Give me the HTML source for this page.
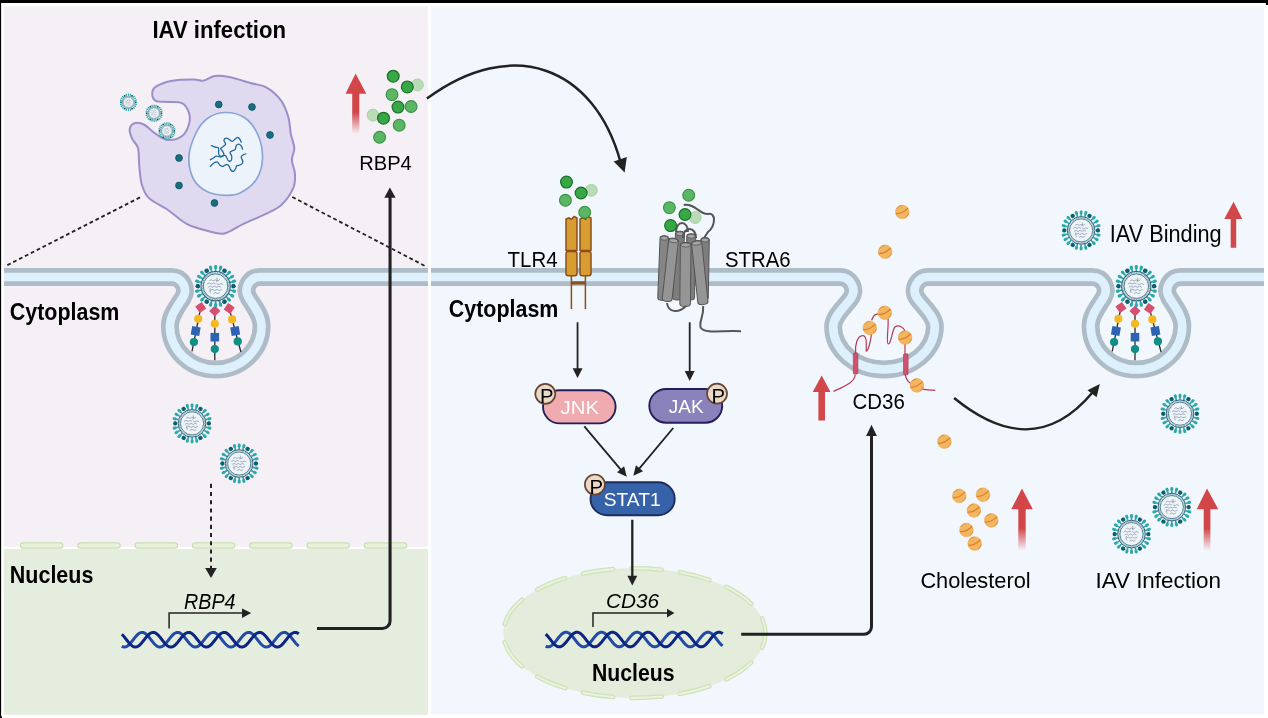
<!DOCTYPE html><html><head><meta charset="utf-8"><style>html,body{margin:0;padding:0;background:#fff;overflow:hidden}svg{display:block;will-change:transform}text{font-family:"Liberation Sans",sans-serif}</style></head><body>
<svg width="1268" height="718" viewBox="0 0 1268 718">
<defs><g id="virus"><g transform="rotate(15)"><rect x="14" y="-0.8" width="3" height="1.6" fill="#2aa5a8"/><rect x="16" y="-1.45" width="4" height="2.9" rx="1.3" fill="#2aa9aa"/></g><g transform="rotate(30)"><rect x="14" y="-0.8" width="3" height="1.6" fill="#2aa5a8"/><rect x="16" y="-1.45" width="4" height="2.9" rx="1.3" fill="#2aa9aa"/></g><g transform="rotate(45)"><rect x="14" y="-0.8" width="3" height="1.6" fill="#2aa5a8"/><rect x="16" y="-1.45" width="4" height="2.9" rx="1.3" fill="#2aa9aa"/></g><g transform="rotate(75)"><rect x="14" y="-0.8" width="3" height="1.6" fill="#2aa5a8"/><rect x="16" y="-1.45" width="4" height="2.9" rx="1.3" fill="#2aa9aa"/></g><g transform="rotate(90)"><rect x="14" y="-0.8" width="3" height="1.6" fill="#2aa5a8"/><rect x="16" y="-1.45" width="4" height="2.9" rx="1.3" fill="#2aa9aa"/></g><g transform="rotate(105)"><rect x="14" y="-0.8" width="3" height="1.6" fill="#2aa5a8"/><rect x="16" y="-1.45" width="4" height="2.9" rx="1.3" fill="#2aa9aa"/></g><g transform="rotate(135)"><rect x="14" y="-0.8" width="3" height="1.6" fill="#2aa5a8"/><rect x="16" y="-1.45" width="4" height="2.9" rx="1.3" fill="#2aa9aa"/></g><g transform="rotate(150)"><rect x="14" y="-0.8" width="3" height="1.6" fill="#2aa5a8"/><rect x="16" y="-1.45" width="4" height="2.9" rx="1.3" fill="#2aa9aa"/></g><g transform="rotate(165)"><rect x="14" y="-0.8" width="3" height="1.6" fill="#2aa5a8"/><rect x="16" y="-1.45" width="4" height="2.9" rx="1.3" fill="#2aa9aa"/></g><g transform="rotate(195)"><rect x="14" y="-0.8" width="3" height="1.6" fill="#2aa5a8"/><rect x="16" y="-1.45" width="4" height="2.9" rx="1.3" fill="#2aa9aa"/></g><g transform="rotate(210)"><rect x="14" y="-0.8" width="3" height="1.6" fill="#2aa5a8"/><rect x="16" y="-1.45" width="4" height="2.9" rx="1.3" fill="#2aa9aa"/></g><g transform="rotate(225)"><rect x="14" y="-0.8" width="3" height="1.6" fill="#2aa5a8"/><rect x="16" y="-1.45" width="4" height="2.9" rx="1.3" fill="#2aa9aa"/></g><g transform="rotate(255)"><rect x="14" y="-0.8" width="3" height="1.6" fill="#2aa5a8"/><rect x="16" y="-1.45" width="4" height="2.9" rx="1.3" fill="#2aa9aa"/></g><g transform="rotate(270)"><rect x="14" y="-0.8" width="3" height="1.6" fill="#2aa5a8"/><rect x="16" y="-1.45" width="4" height="2.9" rx="1.3" fill="#2aa9aa"/></g><g transform="rotate(285)"><rect x="14" y="-0.8" width="3" height="1.6" fill="#2aa5a8"/><rect x="16" y="-1.45" width="4" height="2.9" rx="1.3" fill="#2aa9aa"/></g><g transform="rotate(315)"><rect x="14" y="-0.8" width="3" height="1.6" fill="#2aa5a8"/><rect x="16" y="-1.45" width="4" height="2.9" rx="1.3" fill="#2aa9aa"/></g><g transform="rotate(330)"><rect x="14" y="-0.8" width="3" height="1.6" fill="#2aa5a8"/><rect x="16" y="-1.45" width="4" height="2.9" rx="1.3" fill="#2aa9aa"/></g><g transform="rotate(345)"><rect x="14" y="-0.8" width="3" height="1.6" fill="#2aa5a8"/><rect x="16" y="-1.45" width="4" height="2.9" rx="1.3" fill="#2aa9aa"/></g><g transform="rotate(0) translate(16.8 0)"><path d="M-2 -1.2 L-0.5 -2.2 L1.5 -1.8 L2.2 0 L1.5 1.8 L-0.5 2.2 L-2 1.2Z" fill="#0e5f6e"/></g><g transform="rotate(60) translate(16.8 0)"><path d="M-2 -1.2 L-0.5 -2.2 L1.5 -1.8 L2.2 0 L1.5 1.8 L-0.5 2.2 L-2 1.2Z" fill="#0e5f6e"/></g><g transform="rotate(120) translate(16.8 0)"><path d="M-2 -1.2 L-0.5 -2.2 L1.5 -1.8 L2.2 0 L1.5 1.8 L-0.5 2.2 L-2 1.2Z" fill="#0e5f6e"/></g><g transform="rotate(180) translate(16.8 0)"><path d="M-2 -1.2 L-0.5 -2.2 L1.5 -1.8 L2.2 0 L1.5 1.8 L-0.5 2.2 L-2 1.2Z" fill="#0e5f6e"/></g><g transform="rotate(240) translate(16.8 0)"><path d="M-2 -1.2 L-0.5 -2.2 L1.5 -1.8 L2.2 0 L1.5 1.8 L-0.5 2.2 L-2 1.2Z" fill="#0e5f6e"/></g><g transform="rotate(300) translate(16.8 0)"><path d="M-2 -1.2 L-0.5 -2.2 L1.5 -1.8 L2.2 0 L1.5 1.8 L-0.5 2.2 L-2 1.2Z" fill="#0e5f6e"/></g><circle r="13.8" fill="#e3eef0" stroke="#2c5f7a" stroke-width="1"/><circle r="12.7" fill="none" stroke="#6fa3b3" stroke-width="1" stroke-dasharray="0.9 0.7"/><circle r="11.6" fill="#edf4f5" stroke="#2c5f7a" stroke-width="0.8"/><path d="M-6 -5 C-5.67 -5.17 -4.67 -6 -4 -6 C-3.33 -6 -2.67 -5 -2 -5 C-1.33 -5 -0.67 -6 0 -6 C0.67 -6 1.33 -4.92 2 -5 C2.67 -5.08 3.67 -6.25 4 -6.5" fill="none" stroke="#5c6390" stroke-width="0.5"/><path d="M-8 -2 C-7.67 -2.17 -6.67 -3 -6 -3 C-5.33 -3 -4.67 -2 -4 -2 C-3.33 -2 -2.67 -3 -2 -3 C-1.33 -3 -0.33 -2.17 0 -2" fill="none" stroke="#5c6390" stroke-width="0.5"/><path d="M1 -2.5 C1.33 -2.33 2.33 -1.5 3 -1.5 C3.67 -1.5 4.33 -2.5 5 -2.5 C5.67 -2.5 6.67 -1.67 7 -1.5" fill="none" stroke="#5c6390" stroke-width="0.5"/><path d="M-7 1 C-6.67 0.83 -5.67 0 -5 0 C-4.33 0 -3.67 1 -3 1 C-2.33 1 -1.67 0 -1 0 C-0.33 0 0.33 1 1 1 C1.67 1 2.33 0 3 0 C3.67 0 4.67 0.83 5 1" fill="none" stroke="#5c6390" stroke-width="0.5"/><path d="M-5 4 C-4.67 3.83 -3.67 3 -3 3 C-2.33 3 -1.67 4 -1 4 C-0.33 4 0.33 3 1 3 C1.67 3 2.17 4 3 4 C3.83 4 5.5 3.17 6 3" fill="none" stroke="#5c6390" stroke-width="0.5"/><path d="M-2 7 C-1.67 6.83 -0.67 6 0 6 C0.67 6 1.33 7 2 7 C2.67 7 3.67 6.17 4 6" fill="none" stroke="#5c6390" stroke-width="0.5"/><path d="M-5 2 C-5.08 2.42 -5.58 3.75 -5.5 4.5 C-5.42 5.25 -4.67 6.17 -4.5 6.5" fill="none" stroke="#5c6390" stroke-width="0.5"/><path d="M1 -8 C1.08 -7.67 1.58 -6.67 1.5 -6 C1.42 -5.33 0.67 -4.33 0.5 -4" fill="none" stroke="#5c6390" stroke-width="0.5"/></g><g id="glyc"><path d="M200.75 307.5 L192 351.4 M214.8 311 L214.8 360.2 M229.2 308.5 L240.9 352" stroke="#2b2b2b" stroke-width="1.3" fill="none"/><rect x="196.79" y="303.54" width="7.92" height="7.92" fill="#d4506e" transform="rotate(55 200.75 307.5)"/><rect x="210.84" y="307.04" width="7.92" height="7.92" fill="#d4506e" transform="rotate(45 214.8 311)"/><rect x="225.24" y="304.54" width="7.92" height="7.92" fill="#d4506e" transform="rotate(35 229.2 308.5)"/><circle cx="198.2" cy="318.8" r="4.1" fill="#f5b820"/><circle cx="214.8" cy="323.8" r="4.1" fill="#f5b820"/><circle cx="232.1" cy="319.4" r="4.1" fill="#f5b820"/><rect x="191.4" y="326.8" width="8.6" height="8.6" fill="#2e63b4" transform="rotate(10 195.7 331.1)"/><rect x="210.5" y="332.9" width="8.6" height="8.6" fill="#2e63b4" transform="rotate(0 214.8 337.2)"/><rect x="230.9" y="326.8" width="8.6" height="8.6" fill="#2e63b4" transform="rotate(-10 235.2 331.1)"/><circle cx="193.9" cy="342" r="4.1" fill="#0e8f86"/><circle cx="214.8" cy="349.1" r="4.1" fill="#0e8f86"/><circle cx="237.7" cy="341.4" r="4.1" fill="#0e8f86"/></g><g id="chol"><circle r="6.8" fill="#f2b662" stroke="#eaa44e" stroke-width="0.6"/><path d="M-5.6 -3.2 A6.4 6.4 0 0 1 -0.5 -6.4" stroke="#e38f38" stroke-width="1" fill="none"/><path d="M-6.4 1.6 Q-0.5 2.4 5.6 -3.8" stroke="#dd8126" stroke-width="1.3" fill="none"/><path d="M6.3 1 A6.4 6.4 0 0 1 3.2 5.5" stroke="#e38f38" stroke-width="1" fill="none"/></g><linearGradient id="fadeR" x1="0" y1="0" x2="0" y2="1"><stop offset="0" stop-color="#d2464a"/><stop offset="0.64" stop-color="#d2464a"/><stop offset="1" stop-color="#d2464a" stop-opacity="0"/></linearGradient></defs>
<rect width="1268" height="718" fill="#fff"/>
<rect x="0" y="0" width="1268" height="3" fill="#000"/>
<rect x="0" y="0" width="1.1" height="718" fill="#000"/>
<rect x="1265.9" y="0" width="2.1" height="5" fill="#000"/>
<rect x="0" y="716.4" width="2" height="1.6" fill="#000"/>
<rect x="3.9" y="6.4" width="424.2" height="540.6" fill="#f5f0f6"/>
<rect x="3.9" y="549" width="424.2" height="165.8" fill="#e5eddf"/>
<rect x="430.9" y="6.4" width="833.3" height="707.8" fill="#f1f7fc"/>
<path d="M4 277 L171.45 277 A13.5 13.5 0 0 1 182.9 297.65 C176.54 307.83 169.9 316 169.9 326 A45.85 43.5 0 0 0 261.6 326 C261.6 316 254.96 307.83 248.6 297.65 A13.5 13.5 0 0 1 260.05 277 L428 277" fill="none" stroke="#aebcc8" stroke-width="18"/>
<path d="M4 277 L171.45 277 A13.5 13.5 0 0 1 182.9 297.65 C176.54 307.83 169.9 316 169.9 326 A45.85 43.5 0 0 0 261.6 326 C261.6 316 254.96 307.83 248.6 297.65 A13.5 13.5 0 0 1 260.05 277 L428 277" fill="none" stroke="#dff0fd" stroke-width="8.6"/>
<path d="M431 277 L839.8 277 A13.5 13.5 0 0 1 850.72 298.44 C843.67 308.14 833.15 316.6 833.15 326.6 A50.85 42.9 0 0 0 934.85 326.6 C934.85 316.6 924.33 308.14 917.28 298.44 A13.5 13.5 0 0 1 928.2 277 L1092.15 277 A13.5 13.5 0 0 1 1103.6 297.65 C1097.24 307.83 1090.6 316 1090.6 326 A45.85 43.5 0 0 0 1182.3 326 C1182.3 316 1175.66 307.83 1169.3 297.65 A13.5 13.5 0 0 1 1180.75 277 L1264 277" fill="none" stroke="#aebcc8" stroke-width="18"/>
<path d="M431 277 L839.8 277 A13.5 13.5 0 0 1 850.72 298.44 C843.67 308.14 833.15 316.6 833.15 326.6 A50.85 42.9 0 0 0 934.85 326.6 C934.85 316.6 924.33 308.14 917.28 298.44 A13.5 13.5 0 0 1 928.2 277 L1092.15 277 A13.5 13.5 0 0 1 1103.6 297.65 C1097.24 307.83 1090.6 316 1090.6 326 A45.85 43.5 0 0 0 1182.3 326 C1182.3 316 1175.66 307.83 1169.3 297.65 A13.5 13.5 0 0 1 1180.75 277 L1264 277" fill="none" stroke="#dff0fd" stroke-width="8.6"/>
<path d="M152.2 93.7 C152.2 91.33 152.43 88.77 155.8 86.6 C159.17 84.43 166.08 81.88 172.4 80.7 C178.72 79.52 188.58 79.5 193.7 79.5 C198.82 79.5 199.55 81.3 203.1 80.7 C206.65 80.1 210.65 76.5 215 75.9 C219.35 75.3 223.28 75.92 229.2 77.1 C235.12 78.28 244.18 81.22 250.5 83 C256.82 84.78 261.97 84.83 267.1 87.8 C272.23 90.77 277.75 95.87 281.3 100.8 C284.85 105.73 286.82 111.88 288.4 117.4 C289.98 122.92 289.82 128.78 290.8 133.9 C291.78 139.02 294.12 143.75 294.3 148.1 C294.48 152.45 291.78 155.65 291.9 160 C292.02 164.35 294.8 169.47 295 174.2 C295.2 178.93 295.38 183.27 293.1 188.4 C290.82 193.53 286.03 200.67 281.3 205 C276.57 209.33 271.02 211.25 264.7 214.4 C258.38 217.55 250.1 220.73 243.4 223.9 C236.7 227.07 230.42 232.22 224.5 233.4 C218.58 234.58 214.22 232.58 207.9 231 C201.58 229.42 193.32 227.45 186.6 223.9 C179.88 220.35 173.92 214.03 167.6 209.7 C161.28 205.37 153.03 202.23 148.7 197.9 C144.37 193.57 143.18 189.23 141.6 183.7 C140.02 178.17 139.8 170.63 139.2 164.7 C138.6 158.77 139.18 152.43 138 148.1 C136.82 143.77 133.48 141.85 132.1 138.7 C130.72 135.55 129.3 131.77 129.7 129.2 C130.1 126.63 132.13 124.08 134.5 123.3 C136.87 122.52 140.35 122.73 143.9 124.5 C147.45 126.27 151.85 131.33 155.8 133.9 C159.75 136.47 163.27 139.5 167.6 139.9 C171.93 140.3 178.25 138.87 181.8 136.3 C185.35 133.73 187.72 128.45 188.9 124.5 C190.08 120.55 190.08 116.15 188.9 112.6 C187.72 109.05 185.35 104.97 181.8 103.2 C178.25 101.43 171.93 102.4 167.6 102 C163.27 101.6 158.37 102.18 155.8 100.8 C153.23 99.42 152.2 96.07 152.2 93.7Z" fill="#e0daf0" stroke="#9a8fc8" stroke-width="2"/>
<path d="M225.75 112.5 C231.92 112.5 239.62 114.25 245 118 C250.38 121.75 255.08 128.17 258 135 C260.92 141.83 262.83 151.5 262.5 159 C262.17 166.5 259.75 174.33 256 180 C252.25 185.67 245.04 190.45 240 193 C234.96 195.55 231.08 195.47 225.75 195.3 C220.42 195.13 213.29 194.55 208 192 C202.71 189.45 197.18 185.83 194 180 C190.82 174.17 188.57 164.83 188.9 157 C189.23 149.17 192.82 139.5 196 133 C199.18 126.5 203.04 121.42 208 118 C212.96 114.58 219.58 112.5 225.75 112.5Z" fill="#ecf3fb" stroke="#8aa4d6" stroke-width="1.7"/>
<path d="M210.29 159.73 C210.8 159.45 212.38 158.66 213.35 158.06 C214.33 157.45 215.12 156.29 216.14 156.11 C217.16 155.92 218.46 156.9 219.48 156.94 C220.5 156.99 221.52 156.85 222.26 156.39 C223 155.92 223.93 155.09 223.93 154.16 C223.93 153.23 222.82 151.75 222.26 150.82 C221.7 149.89 220.4 149.33 220.59 148.59 C220.78 147.85 222.54 147.11 223.37 146.36 C224.21 145.62 225.51 145.16 225.6 144.14 C225.69 143.12 223.84 141.26 223.93 140.24 C224.02 139.22 225.23 138.1 226.16 138.01 C227.09 137.92 228.48 139.12 229.5 139.68 C230.52 140.24 231.35 141.44 232.28 141.35 C233.21 141.26 234.14 139.77 235.07 139.12 C235.99 138.48 237.02 137.36 237.85 137.45 C238.69 137.55 239.52 138.89 240.08 139.68 C240.63 140.47 241.01 141.77 241.19 142.19" fill="none" stroke="#1d6597" stroke-width="1.25" stroke-linecap="round"/>
<path d="M211.4 145.53 C212.01 145.81 213.86 146.83 215.02 147.2 C216.18 147.57 217.76 147.06 218.36 147.76 C218.97 148.45 218.55 150.21 218.64 151.37 C218.73 152.53 218.41 153.88 218.92 154.71 C219.43 155.55 220.68 156.29 221.7 156.39 C222.72 156.48 224.21 155.09 225.04 155.27 C225.88 155.46 226.16 156.57 226.71 157.5 C227.27 158.43 227.64 160.38 228.39 160.84 C229.13 161.3 230.61 161.03 231.17 160.28 C231.73 159.54 231.91 157.68 231.73 156.39 C231.54 155.09 229.96 153.42 230.06 152.49 C230.15 151.56 231.45 151.28 232.28 150.82 C233.12 150.35 234.42 150.54 235.07 149.7 C235.72 148.87 235.62 146.73 236.18 145.81 C236.74 144.88 237.57 144.14 238.41 144.14 C239.24 144.14 240.5 144.97 241.19 145.81 C241.89 146.64 242.35 148.59 242.58 149.15" fill="none" stroke="#1d6597" stroke-width="1.25" stroke-linecap="round"/>
<path d="M210.29 166.41 C210.89 165.85 212.75 163.81 213.91 163.07 C215.07 162.32 216.23 161.58 217.25 161.95 C218.27 162.32 219.11 164.55 220.03 165.29 C220.96 166.04 221.8 166.5 222.82 166.41 C223.84 166.31 225.14 164.83 226.16 164.74 C227.18 164.64 228.2 165.02 228.94 165.85 C229.68 166.69 229.87 168.82 230.61 169.75 C231.35 170.68 232.56 171.6 233.4 171.42 C234.23 171.23 235.07 169.56 235.62 168.63 C236.18 167.71 235.9 166.5 236.74 165.85 C237.57 165.2 239.61 165.39 240.63 164.74 C241.66 164.09 242.77 163.25 242.86 161.95 C242.95 160.65 241.1 158.15 241.19 156.94 C241.28 155.74 242.63 155.23 243.42 154.71 C244.21 154.2 245.51 154.02 245.92 153.88" fill="none" stroke="#1d6597" stroke-width="1.25" stroke-linecap="round"/>
<circle cx="218.75" cy="104.5" r="3.4" fill="#177080" stroke="#0d5260" stroke-width="0.8"/>
<circle cx="252" cy="107" r="3.4" fill="#177080" stroke="#0d5260" stroke-width="0.8"/>
<circle cx="270" cy="135" r="3.4" fill="#177080" stroke="#0d5260" stroke-width="0.8"/>
<circle cx="179" cy="158" r="3.4" fill="#177080" stroke="#0d5260" stroke-width="0.8"/>
<circle cx="179" cy="185.5" r="3.4" fill="#177080" stroke="#0d5260" stroke-width="0.8"/>
<circle cx="214.5" cy="203" r="3.4" fill="#177080" stroke="#0d5260" stroke-width="0.8"/>
<use href="#virus" transform="translate(128.4 102.3) scale(0.44)"/>
<use href="#virus" transform="translate(154.1 113.2) scale(0.44)"/>
<use href="#virus" transform="translate(166.9 130.9) scale(0.44)"/>
<path d="M140 197.4 L4.9 266.4 M292.3 197 L427 267" stroke="#222" stroke-width="1.8" stroke-dasharray="3.8 2.8" fill="none"/>
<text x="152.4" y="37.97" font-size="23" font-weight="bold" font-style="normal" fill="#000" textLength="133.6" lengthAdjust="spacingAndGlyphs">IAV infection</text>
<text x="9.8" y="319.7" font-size="23" font-weight="bold" font-style="normal" fill="#000" textLength="109.6" lengthAdjust="spacingAndGlyphs">Cytoplasm</text>
<use href="#glyc"/>
<use href="#virus" transform="translate(215.6 286.2) scale(1.06)"/>
<use href="#virus" transform="translate(192.06 423.4)"/>
<use href="#virus" transform="translate(239.2 463.5)"/>
<rect x="4" y="546.8" width="424" height="2.2" fill="#fff"/>
<rect x="20.5" y="542.8" width="42.4" height="5.4" rx="2.7" fill="#e7f1dc" stroke="#c9dfb4" stroke-width="1.2"/>
<rect x="77.8" y="542.8" width="42.4" height="5.4" rx="2.7" fill="#e7f1dc" stroke="#c9dfb4" stroke-width="1.2"/>
<rect x="135.1" y="542.8" width="42.4" height="5.4" rx="2.7" fill="#e7f1dc" stroke="#c9dfb4" stroke-width="1.2"/>
<rect x="192.4" y="542.8" width="42.4" height="5.4" rx="2.7" fill="#e7f1dc" stroke="#c9dfb4" stroke-width="1.2"/>
<rect x="249.7" y="542.8" width="42.4" height="5.4" rx="2.7" fill="#e7f1dc" stroke="#c9dfb4" stroke-width="1.2"/>
<rect x="307" y="542.8" width="42.4" height="5.4" rx="2.7" fill="#e7f1dc" stroke="#c9dfb4" stroke-width="1.2"/>
<rect x="364.3" y="542.8" width="42.4" height="5.4" rx="2.7" fill="#e7f1dc" stroke="#c9dfb4" stroke-width="1.2"/>
<path d="M211 483.8 L211 569" stroke="#222" stroke-width="2" stroke-dasharray="4.1 4.1" fill="none"/>
<path d="M205.2 567.9 L216.8 567.9 L211 578Z" fill="#222"/>
<text x="9.8" y="582.6" font-size="23.5" font-weight="bold" font-style="normal" fill="#000" textLength="83.6" lengthAdjust="spacingAndGlyphs">Nucleus</text>
<path d="M121.8 646.27 L122.3 646.52 L122.8 646.73 L123.3 646.87 L123.8 646.97 L124.3 647 L124.8 646.98 L125.3 646.9 L125.8 646.76 L126.3 646.57 L126.8 646.32 L127.3 646.03 L127.8 645.68 L128.3 645.29 L128.8 644.85 L129.3 644.37 L129.8 643.86 L130.3 643.31 L130.8 642.74 L131.3 642.14 L131.8 641.52 L132.3 640.89 L132.8 640.25 L133.3 639.6 L133.8 638.96 L134.3 638.32 L134.8 637.69 L135.3 637.08 L135.8 636.49 L136.3 635.92 L136.8 635.38 L137.3 634.88 L137.8 634.41 L138.3 633.99 L138.8 633.61 L139.3 633.28 L139.8 633 L140.3 632.77 L140.8 632.59 L141.3 632.47 L141.8 632.41 L142.3 632.4 L142.8 632.46 L143.3 632.56 L143.8 632.73 L144.3 632.95 L144.8 633.22 L145.3 633.54 L145.8 633.91 L146.3 634.33 L146.8 634.78 L147.3 635.28 L147.8 635.81 L148.3 636.37 L148.8 636.96 L149.3 637.57 L149.8 638.19 L150.3 638.83 L150.8 639.47 L151.3 640.12 L151.8 640.76 L152.3 641.4 L152.8 642.02 L153.3 642.62 L153.8 643.2 L154.3 643.75 L154.8 644.27 L155.3 644.76 L155.8 645.2 L156.3 645.61 L156.8 645.96 L157.3 646.27 L157.8 646.52 L158.3 646.73 L158.8 646.87 L159.3 646.97 L159.8 647 L160.3 646.98 L160.8 646.9 L161.3 646.76 L161.8 646.57 L162.3 646.32 L162.8 646.03 L163.3 645.68 L163.8 645.29 L164.3 644.85 L164.8 644.37 L165.3 643.86 L165.8 643.31 L166.3 642.74 L166.8 642.14 L167.3 641.52 L167.8 640.89 L168.3 640.25 L168.8 639.6 L169.3 638.96 L169.8 638.32 L170.3 637.69 L170.8 637.08 L171.3 636.49 L171.8 635.92 L172.3 635.38 L172.8 634.88 L173.3 634.41 L173.8 633.99 L174.3 633.61 L174.8 633.28 L175.3 633 L175.8 632.77 L176.3 632.59 L176.8 632.47 L177.3 632.41 L177.8 632.4 L178.3 632.46 L178.8 632.56 L179.3 632.73 L179.8 632.95 L180.3 633.22 L180.8 633.54 L181.3 633.91 L181.8 634.33 L182.3 634.78 L182.8 635.28 L183.3 635.81 L183.8 636.37 L184.3 636.96 L184.8 637.57 L185.3 638.19 L185.8 638.83 L186.3 639.47 L186.8 640.12 L187.3 640.76 L187.8 641.4 L188.3 642.02 L188.8 642.62 L189.3 643.2 L189.8 643.75 L190.3 644.27 L190.8 644.76 L191.3 645.2 L191.8 645.61 L192.3 645.96 L192.8 646.27 L193.3 646.52 L193.8 646.73 L194.3 646.87 L194.8 646.97 L195.3 647 L195.8 646.98 L196.3 646.9 L196.8 646.76 L197.3 646.57 L197.8 646.32 L198.3 646.03 L198.8 645.68 L199.3 645.29 L199.8 644.85 L200.3 644.37 L200.8 643.86 L201.3 643.31 L201.8 642.74 L202.3 642.14 L202.8 641.52 L203.3 640.89 L203.8 640.25 L204.3 639.6 L204.8 638.96 L205.3 638.32 L205.8 637.69 L206.3 637.08 L206.8 636.49 L207.3 635.92 L207.8 635.38 L208.3 634.88 L208.8 634.41 L209.3 633.99 L209.8 633.61 L210.3 633.28 L210.8 633 L211.3 632.77 L211.8 632.59 L212.3 632.47 L212.8 632.41 L213.3 632.4 L213.8 632.46 L214.3 632.56 L214.8 632.73 L215.3 632.95 L215.8 633.22 L216.3 633.54 L216.8 633.91 L217.3 634.33 L217.8 634.78 L218.3 635.28 L218.8 635.81 L219.3 636.37 L219.8 636.96 L220.3 637.57 L220.8 638.19 L221.3 638.83 L221.8 639.47 L222.3 640.12 L222.8 640.76 L223.3 641.4 L223.8 642.02 L224.3 642.62 L224.8 643.2 L225.3 643.75 L225.8 644.27 L226.3 644.76 L226.8 645.2 L227.3 645.61 L227.8 645.96 L228.3 646.27 L228.8 646.52 L229.3 646.73 L229.8 646.87 L230.3 646.97 L230.8 647 L231.3 646.98 L231.8 646.9 L232.3 646.76 L232.8 646.57 L233.3 646.32 L233.8 646.03 L234.3 645.68 L234.8 645.29 L235.3 644.85 L235.8 644.37 L236.3 643.86 L236.8 643.31 L237.3 642.74 L237.8 642.14 L238.3 641.52 L238.8 640.89 L239.3 640.25 L239.8 639.6 L240.3 638.96 L240.8 638.32 L241.3 637.69 L241.8 637.08 L242.3 636.49 L242.8 635.92 L243.3 635.38 L243.8 634.88 L244.3 634.41 L244.8 633.99 L245.3 633.61 L245.8 633.28 L246.3 633 L246.8 632.77 L247.3 632.59 L247.8 632.47 L248.3 632.41 L248.8 632.4 L249.3 632.46 L249.8 632.56 L250.3 632.73 L250.8 632.95 L251.3 633.22 L251.8 633.54 L252.3 633.91 L252.8 634.33 L253.3 634.78 L253.8 635.28 L254.3 635.81 L254.8 636.37 L255.3 636.96 L255.8 637.57 L256.3 638.19 L256.8 638.83 L257.3 639.47 L257.8 640.12 L258.3 640.76 L258.8 641.4 L259.3 642.02 L259.8 642.62 L260.3 643.2 L260.8 643.75 L261.3 644.27 L261.8 644.76 L262.3 645.2 L262.8 645.61 L263.3 645.96 L263.8 646.27 L264.3 646.52 L264.8 646.73 L265.3 646.87 L265.8 646.97 L266.3 647 L266.8 646.98 L267.3 646.9 L267.8 646.76 L268.3 646.57 L268.8 646.32 L269.3 646.03 L269.8 645.68 L270.3 645.29 L270.8 644.85 L271.3 644.37 L271.8 643.86 L272.3 643.31 L272.8 642.74 L273.3 642.14 L273.8 641.52 L274.3 640.89 L274.8 640.25 L275.3 639.6 L275.8 638.96 L276.3 638.32 L276.8 637.69 L277.3 637.08 L277.8 636.49 L278.3 635.92 L278.8 635.38 L279.3 634.88 L279.8 634.41 L280.3 633.99 L280.8 633.61 L281.3 633.28 L281.8 633 L282.3 632.77 L282.8 632.59 L283.3 632.47 L283.8 632.41 L284.3 632.4 L284.8 632.46 L285.3 632.56 L285.8 632.73 L286.3 632.95 L286.8 633.22 L287.3 633.54 L287.8 633.91 L288.3 634.33 L288.8 634.78 L289.3 635.28 L289.8 635.81 L290.3 636.37 L290.8 636.96 L291.3 637.57 L291.8 638.19 L292.3 638.83 L292.8 639.47 L293.3 640.12 L293.8 640.76 L294.3 641.4 L294.8 642.02 L295.3 642.62 L295.8 643.2 L296.3 643.75 L296.8 644.27 L297.3 644.76 L297.8 645.2 L298.3 645.61 L298.8 645.96" stroke="#2149a6" stroke-width="3" fill="none"/><path d="M121.8 634.33 L122.3 634.78 L122.8 635.28 L123.3 635.81 L123.8 636.37 L124.3 636.96 L124.8 637.57 L125.3 638.19 L125.8 638.83 L126.3 639.47 L126.8 640.12 L127.3 640.76 L127.8 641.4 L128.3 642.02 L128.8 642.62 L129.3 643.2 L129.8 643.75 L130.3 644.27 L130.8 644.76 L131.3 645.2 L131.8 645.61 L132.3 645.96 L132.8 646.27 L133.3 646.52 L133.8 646.73 L134.3 646.87 L134.8 646.97 L135.3 647 L135.8 646.98 L136.3 646.9 L136.8 646.76 L137.3 646.57 L137.8 646.32 L138.3 646.03 L138.8 645.68 L139.3 645.29 L139.8 644.85 L140.3 644.37 L140.8 643.86 L141.3 643.31 L141.8 642.74 L142.3 642.14 L142.8 641.52 L143.3 640.89 L143.8 640.25 L144.3 639.6 L144.8 638.96 L145.3 638.32 L145.8 637.69 L146.3 637.08 L146.8 636.49 L147.3 635.92 L147.8 635.38 L148.3 634.88 L148.8 634.41 L149.3 633.99 L149.8 633.61 L150.3 633.28 L150.8 633 L151.3 632.77 L151.8 632.59 L152.3 632.47 L152.8 632.41 L153.3 632.4 L153.8 632.46 L154.3 632.56 L154.8 632.73 L155.3 632.95 L155.8 633.22 L156.3 633.54 L156.8 633.91 L157.3 634.33 L157.8 634.78 L158.3 635.28 L158.8 635.81 L159.3 636.37 L159.8 636.96 L160.3 637.57 L160.8 638.19 L161.3 638.83 L161.8 639.47 L162.3 640.12 L162.8 640.76 L163.3 641.4 L163.8 642.02 L164.3 642.62 L164.8 643.2 L165.3 643.75 L165.8 644.27 L166.3 644.76 L166.8 645.2 L167.3 645.61 L167.8 645.96 L168.3 646.27 L168.8 646.52 L169.3 646.73 L169.8 646.87 L170.3 646.97 L170.8 647 L171.3 646.98 L171.8 646.9 L172.3 646.76 L172.8 646.57 L173.3 646.32 L173.8 646.03 L174.3 645.68 L174.8 645.29 L175.3 644.85 L175.8 644.37 L176.3 643.86 L176.8 643.31 L177.3 642.74 L177.8 642.14 L178.3 641.52 L178.8 640.89 L179.3 640.25 L179.8 639.6 L180.3 638.96 L180.8 638.32 L181.3 637.69 L181.8 637.08 L182.3 636.49 L182.8 635.92 L183.3 635.38 L183.8 634.88 L184.3 634.41 L184.8 633.99 L185.3 633.61 L185.8 633.28 L186.3 633 L186.8 632.77 L187.3 632.59 L187.8 632.47 L188.3 632.41 L188.8 632.4 L189.3 632.46 L189.8 632.56 L190.3 632.73 L190.8 632.95 L191.3 633.22 L191.8 633.54 L192.3 633.91 L192.8 634.33 L193.3 634.78 L193.8 635.28 L194.3 635.81 L194.8 636.37 L195.3 636.96 L195.8 637.57 L196.3 638.19 L196.8 638.83 L197.3 639.47 L197.8 640.12 L198.3 640.76 L198.8 641.4 L199.3 642.02 L199.8 642.62 L200.3 643.2 L200.8 643.75 L201.3 644.27 L201.8 644.76 L202.3 645.2 L202.8 645.61 L203.3 645.96 L203.8 646.27 L204.3 646.52 L204.8 646.73 L205.3 646.87 L205.8 646.97 L206.3 647 L206.8 646.98 L207.3 646.9 L207.8 646.76 L208.3 646.57 L208.8 646.32 L209.3 646.03 L209.8 645.68 L210.3 645.29 L210.8 644.85 L211.3 644.37 L211.8 643.86 L212.3 643.31 L212.8 642.74 L213.3 642.14 L213.8 641.52 L214.3 640.89 L214.8 640.25 L215.3 639.6 L215.8 638.96 L216.3 638.32 L216.8 637.69 L217.3 637.08 L217.8 636.49 L218.3 635.92 L218.8 635.38 L219.3 634.88 L219.8 634.41 L220.3 633.99 L220.8 633.61 L221.3 633.28 L221.8 633 L222.3 632.77 L222.8 632.59 L223.3 632.47 L223.8 632.41 L224.3 632.4 L224.8 632.46 L225.3 632.56 L225.8 632.73 L226.3 632.95 L226.8 633.22 L227.3 633.54 L227.8 633.91 L228.3 634.33 L228.8 634.78 L229.3 635.28 L229.8 635.81 L230.3 636.37 L230.8 636.96 L231.3 637.57 L231.8 638.19 L232.3 638.83 L232.8 639.47 L233.3 640.12 L233.8 640.76 L234.3 641.4 L234.8 642.02 L235.3 642.62 L235.8 643.2 L236.3 643.75 L236.8 644.27 L237.3 644.76 L237.8 645.2 L238.3 645.61 L238.8 645.96 L239.3 646.27 L239.8 646.52 L240.3 646.73 L240.8 646.87 L241.3 646.97 L241.8 647 L242.3 646.98 L242.8 646.9 L243.3 646.76 L243.8 646.57 L244.3 646.32 L244.8 646.03 L245.3 645.68 L245.8 645.29 L246.3 644.85 L246.8 644.37 L247.3 643.86 L247.8 643.31 L248.3 642.74 L248.8 642.14 L249.3 641.52 L249.8 640.89 L250.3 640.25 L250.8 639.6 L251.3 638.96 L251.8 638.32 L252.3 637.69 L252.8 637.08 L253.3 636.49 L253.8 635.92 L254.3 635.38 L254.8 634.88 L255.3 634.41 L255.8 633.99 L256.3 633.61 L256.8 633.28 L257.3 633 L257.8 632.77 L258.3 632.59 L258.8 632.47 L259.3 632.41 L259.8 632.4 L260.3 632.46 L260.8 632.56 L261.3 632.73 L261.8 632.95 L262.3 633.22 L262.8 633.54 L263.3 633.91 L263.8 634.33 L264.3 634.78 L264.8 635.28 L265.3 635.81 L265.8 636.37 L266.3 636.96 L266.8 637.57 L267.3 638.19 L267.8 638.83 L268.3 639.47 L268.8 640.12 L269.3 640.76 L269.8 641.4 L270.3 642.02 L270.8 642.62 L271.3 643.2 L271.8 643.75 L272.3 644.27 L272.8 644.76 L273.3 645.2 L273.8 645.61 L274.3 645.96 L274.8 646.27 L275.3 646.52 L275.8 646.73 L276.3 646.87 L276.8 646.97 L277.3 647 L277.8 646.98 L278.3 646.9 L278.8 646.76 L279.3 646.57 L279.8 646.32 L280.3 646.03 L280.8 645.68 L281.3 645.29 L281.8 644.85 L282.3 644.37 L282.8 643.86 L283.3 643.31 L283.8 642.74 L284.3 642.14 L284.8 641.52 L285.3 640.89 L285.8 640.25 L286.3 639.6 L286.8 638.96 L287.3 638.32 L287.8 637.69 L288.3 637.08 L288.8 636.49 L289.3 635.92 L289.8 635.38 L290.3 634.88 L290.8 634.41 L291.3 633.99 L291.8 633.61 L292.3 633.28 L292.8 633 L293.3 632.77 L293.8 632.59 L294.3 632.47 L294.8 632.41 L295.3 632.4 L295.8 632.46 L296.3 632.56 L296.8 632.73 L297.3 632.95 L297.8 633.22 L298.3 633.54 L298.8 633.91" stroke="#0b2583" stroke-width="3" fill="none"/>
<path d="M169.1 628.5 L169.1 613.1 L243 613.1" stroke="#222" stroke-width="1.5" fill="none"/>
<path d="M242 608.4 L251.2 613.1 L242 617.9Z" fill="#222"/>
<text x="184" y="608.9" font-size="21.4" font-weight="normal" font-style="italic" fill="#000" textLength="51.6" lengthAdjust="spacingAndGlyphs">RBP4</text>
<path d="M317 628.5 L382.45 628.5 A7.6 7.6 0 0 0 390.05 620.9 L390.05 196" stroke="#222" stroke-width="3.1" fill="none"/>
<path d="M384.3 197.8 L389.9 187.5 L395.6 197.8Z" fill="#222"/>
<path d="M352.2 93.7 L345.5 93.7 L355.6 73.6 L366.3 93.7 L359.3 93.7 L359.3 134 L352.2 134Z" fill="url(#fadeR)"/>
<circle cx="373" cy="115.1" r="5.9" fill="#b9dcb6" stroke="#a6d0a3" stroke-width="1"/>
<circle cx="417.4" cy="84.9" r="5.9" fill="#b9dcb6" stroke="#a6d0a3" stroke-width="1"/>
<circle cx="393.2" cy="76.2" r="5.9" fill="#38a846" stroke="#1d6e2a" stroke-width="1.2"/>
<circle cx="407.3" cy="86.9" r="5.9" fill="#38a846" stroke="#1d6e2a" stroke-width="1.2"/>
<circle cx="392" cy="94.6" r="5.9" fill="#5cb765" stroke="#3a8f45" stroke-width="1.1"/>
<circle cx="398" cy="107.1" r="5.9" fill="#38a846" stroke="#1d6e2a" stroke-width="1.2"/>
<circle cx="411.1" cy="106.5" r="5.9" fill="#5cb765" stroke="#3a8f45" stroke-width="1.1"/>
<circle cx="383.5" cy="118.2" r="5.9" fill="#38a846" stroke="#1d6e2a" stroke-width="1.2"/>
<circle cx="399.2" cy="125.2" r="5.9" fill="#5cb765" stroke="#3a8f45" stroke-width="1.1"/>
<circle cx="379.6" cy="137.3" r="5.9" fill="#5cb765" stroke="#3a8f45" stroke-width="1.1"/>
<text x="359.2" y="170.4" font-size="20.5" font-weight="normal" font-style="normal" fill="#000" textLength="52.6" lengthAdjust="spacingAndGlyphs">RBP4</text>
<path d="M426.9 98.6 C512.1 35.7, 594.1 66.1, 620.5 162" stroke="#222" stroke-width="2.5" fill="none"/>
<path d="M613.7 161.6 L626.8 157 L624.6 172.4Z" fill="#222"/>
<path d="M571.4 276 L571.4 309 M585.4 276 L585.4 309" stroke="#8a4f1c" stroke-width="1.5"/>
<rect x="571.4" y="281.3" width="14" height="3.2" fill="#8a4f1c"/>
<rect x="566" y="251.5" width="11" height="24.2" rx="2.2" fill="#d89d30" stroke="#8a4f1c" stroke-width="1.5"/>
<path d="M566 250.5 L566 219 L569 217.8 L571.5 219.3 L574 216.5 L577 218 L577 250.5Z" fill="#d89d30" stroke="#8a4f1c" stroke-width="1.5" stroke-linejoin="round"/>
<rect x="580" y="251.5" width="11" height="24.2" rx="2.2" fill="#d89d30" stroke="#8a4f1c" stroke-width="1.5"/>
<path d="M580 250.5 L580 219 L583 217.8 L585.5 219.3 L588 216.5 L591 218 L591 250.5Z" fill="#d89d30" stroke="#8a4f1c" stroke-width="1.5" stroke-linejoin="round"/>
<circle cx="591.4" cy="190.3" r="5.9" fill="#b9dcb6" stroke="#a6d0a3" stroke-width="1"/>
<circle cx="566.5" cy="182.1" r="5.9" fill="#38a846" stroke="#1d6e2a" stroke-width="1.2"/>
<circle cx="581.1" cy="193" r="5.9" fill="#38a846" stroke="#1d6e2a" stroke-width="1.2"/>
<circle cx="565.4" cy="200.3" r="5.9" fill="#5cb765" stroke="#3a8f45" stroke-width="1.1"/>
<circle cx="584.7" cy="212.2" r="5.9" fill="#5cb765" stroke="#3a8f45" stroke-width="1.1"/>
<text x="507.6" y="267.2" font-size="21.8" font-weight="normal" font-style="normal" fill="#000" textLength="50" lengthAdjust="spacingAndGlyphs">TLR4</text>
<path d="M683.7 204.9 C695 203, 700 215, 708 214 C716 212, 716 225, 708 232 L704 238" stroke="#555" stroke-width="2" fill="none"/>
<g transform="translate(705.1 237.5) rotate(1.01)"><rect x="-4.25" y="0" width="8.5" height="62.51" rx="4.25" ry="2.5" fill="#7d7d7d" stroke="#555" stroke-width="1"/><ellipse cx="0" cy="2.5" rx="3.75" ry="2" fill="#a5a5a5" stroke="#555" stroke-width="0.8"/></g>
<g transform="translate(691.3 233.8) rotate(1.12)"><rect x="-4.5" y="0" width="9" height="66.21" rx="4.5" ry="2.5" fill="#7d7d7d" stroke="#555" stroke-width="1"/><ellipse cx="0" cy="2.5" rx="4" ry="2" fill="#a5a5a5" stroke="#555" stroke-width="0.8"/></g>
<g transform="translate(680.1 231.3) rotate(2.58)"><rect x="-4.5" y="0" width="9" height="68.77" rx="4.5" ry="2.5" fill="#7d7d7d" stroke="#555" stroke-width="1"/><ellipse cx="0" cy="2.5" rx="4" ry="2" fill="#a5a5a5" stroke="#555" stroke-width="0.8"/></g>
<g transform="translate(664.4 235.7) rotate(2.22)"><rect x="-4.25" y="0" width="8.5" height="64.55" rx="4.25" ry="2.5" fill="#858585" stroke="#555" stroke-width="1"/><ellipse cx="0" cy="2.5" rx="3.75" ry="2" fill="#a5a5a5" stroke="#555" stroke-width="0.8"/></g>
<path d="M676 232 C676 220, 688 220, 688 232 M683 238 C683 226, 696 226, 696 238" stroke="#555" stroke-width="2" fill="none"/>
<g transform="translate(673.8 238.2) rotate(6.23)"><rect x="-4.9" y="0" width="9.8" height="63.58" rx="4.9" ry="2.5" fill="#959595" stroke="#555" stroke-width="1"/><ellipse cx="0" cy="2.5" rx="4.4" ry="2" fill="#a5a5a5" stroke="#555" stroke-width="0.8"/></g>
<g transform="translate(696.4 240.7) rotate(-6.07)"><rect x="-5.1" y="0" width="10.2" height="64.26" rx="5.1" ry="2.5" fill="#959595" stroke="#555" stroke-width="1"/><ellipse cx="0" cy="2.5" rx="4.6" ry="2" fill="#a5a5a5" stroke="#555" stroke-width="0.8"/></g>
<g transform="translate(685.7 242.5) rotate(0.54)"><rect x="-5.3" y="0" width="10.6" height="64" rx="5.3" ry="2.5" fill="#959595" stroke="#555" stroke-width="1"/><ellipse cx="0" cy="2.5" rx="4.8" ry="2" fill="#a5a5a5" stroke="#555" stroke-width="0.8"/></g>
<path d="M703.2 306 C704 318, 698 322, 701 328 C705 334, 725 330, 741 331.3" stroke="#555" stroke-width="2" fill="none"/>
<path d="M667 303 C668 312, 678 314, 686 306" stroke="#555" stroke-width="2" fill="none"/>
<circle cx="688.7" cy="195.2" r="5.9" fill="#5cb765" stroke="#3a8f45" stroke-width="1.1"/>
<circle cx="669.4" cy="207.6" r="5.9" fill="#5cb765" stroke="#3a8f45" stroke-width="1.1"/>
<circle cx="695.2" cy="217.5" r="5.9" fill="#b9dcb6" stroke="#a6d0a3" stroke-width="1"/>
<circle cx="685" cy="214.5" r="5.9" fill="#38a846" stroke="#1d6e2a" stroke-width="1.2"/>
<circle cx="670.6" cy="225.6" r="5.9" fill="#38a846" stroke="#1d6e2a" stroke-width="1.2"/>
<text x="725" y="267.4" font-size="21.4" font-weight="normal" font-style="normal" fill="#000" textLength="65.6" lengthAdjust="spacingAndGlyphs">STRA6</text>
<text x="448.8" y="316.5" font-size="23" font-weight="bold" font-style="normal" fill="#000" textLength="109.6" lengthAdjust="spacingAndGlyphs">Cytoplasm</text>
<path d="M577.55 322.3 L577.55 369.2" stroke="#222" stroke-width="1.8"/>
<path d="M572.6 368.2 L582.5 368.2 L577.55 378Z" fill="#222"/>
<path d="M689.7 322.3 L689.7 372.1" stroke="#222" stroke-width="1.8"/>
<path d="M684.75 371.1 L694.65 371.1 L689.7 380.9Z" fill="#222"/>
<rect x="543" y="390.3" width="72.6" height="33.1" rx="16.55" fill="#efabaf" stroke="#231f5c" stroke-width="1.9"/>
<text x="560.6" y="413.6" font-size="19.2" font-weight="normal" font-style="normal" fill="#fff" textLength="38.4" lengthAdjust="spacingAndGlyphs">JNK</text>
<circle cx="545.3" cy="393.85" r="10" fill="#ebd8c7" stroke="#654634" stroke-width="1.7"/>
<text x="539.9" y="403.25" font-size="20.3" fill="#000">P</text>
<rect x="649.3" y="389" width="72.9" height="33.7" rx="16.85" fill="#8982bb" stroke="#231f5c" stroke-width="1.9"/>
<text x="668.8" y="413.3" font-size="19.2" font-weight="normal" font-style="normal" fill="#fff" textLength="34.8" lengthAdjust="spacingAndGlyphs">JAK</text>
<circle cx="717" cy="393.7" r="10" fill="#ebd8c7" stroke="#654634" stroke-width="1.7"/>
<text x="711.6" y="403.1" font-size="20.3" fill="#000">P</text>
<path d="M584.3 426.4 L621.22 470.09" stroke="#222" stroke-width="1.8"/>
<path d="M617.06 472.3 L624.09 466.36 L626.8 476.7Z" fill="#222"/>
<path d="M673.2 428 L638.85 469.07" stroke="#222" stroke-width="1.8"/>
<path d="M635.96 465.35 L643.02 471.25 L633.3 475.7Z" fill="#222"/>
<rect x="590.5" y="482.2" width="84.2" height="33.1" rx="16.55" fill="#3562a9" stroke="#1f2a5e" stroke-width="1.9"/>
<text x="603.8" y="505.5" font-size="19.2" font-weight="normal" font-style="normal" fill="#fff" textLength="56.8" lengthAdjust="spacingAndGlyphs">STAT1</text>
<circle cx="594.9" cy="484.5" r="10" fill="#ebd8c7" stroke="#654634" stroke-width="1.7"/>
<text x="589.5" y="493.9" font-size="20.3" fill="#000">P</text>
<ellipse cx="634.45" cy="633.1" rx="131.05" ry="64.8" fill="#e4ecdc"/>
<ellipse cx="634.45" cy="633.1" rx="131.05" ry="64.8" fill="none" stroke="#cde3b8" stroke-width="4.6" pathLength="636" stroke-dasharray="30.5 18.42" stroke-dashoffset="15.25" stroke-linecap="round"/>
<ellipse cx="634.45" cy="633.1" rx="131.05" ry="64.8" fill="none" stroke="#e9f3df" stroke-width="2.1" pathLength="636" stroke-dasharray="30.5 18.42" stroke-dashoffset="15.25" stroke-linecap="round"/>
<path d="M632.3 519.8 L632.3 576.7" stroke="#222" stroke-width="2.3"/>
<path d="M627.35 575.7 L637.25 575.7 L632.3 585.5Z" fill="#222"/>
<path d="M545.7 646.07 L546.2 646.32 L546.7 646.53 L547.2 646.67 L547.7 646.77 L548.2 646.8 L548.7 646.78 L549.2 646.7 L549.7 646.56 L550.2 646.37 L550.7 646.12 L551.2 645.83 L551.7 645.48 L552.2 645.09 L552.7 644.65 L553.2 644.17 L553.7 643.66 L554.2 643.11 L554.7 642.54 L555.2 641.94 L555.7 641.32 L556.2 640.69 L556.7 640.05 L557.2 639.4 L557.7 638.76 L558.2 638.12 L558.7 637.49 L559.2 636.88 L559.7 636.29 L560.2 635.72 L560.7 635.18 L561.2 634.68 L561.7 634.21 L562.2 633.79 L562.7 633.41 L563.2 633.08 L563.7 632.8 L564.2 632.57 L564.7 632.39 L565.2 632.27 L565.7 632.21 L566.2 632.2 L566.7 632.26 L567.2 632.36 L567.7 632.53 L568.2 632.75 L568.7 633.02 L569.2 633.34 L569.7 633.71 L570.2 634.13 L570.7 634.58 L571.2 635.08 L571.7 635.61 L572.2 636.17 L572.7 636.76 L573.2 637.37 L573.7 637.99 L574.2 638.63 L574.7 639.27 L575.2 639.92 L575.7 640.56 L576.2 641.2 L576.7 641.82 L577.2 642.42 L577.7 643 L578.2 643.55 L578.7 644.07 L579.2 644.56 L579.7 645 L580.2 645.41 L580.7 645.76 L581.2 646.07 L581.7 646.32 L582.2 646.53 L582.7 646.67 L583.2 646.77 L583.7 646.8 L584.2 646.78 L584.7 646.7 L585.2 646.56 L585.7 646.37 L586.2 646.12 L586.7 645.83 L587.2 645.48 L587.7 645.09 L588.2 644.65 L588.7 644.17 L589.2 643.66 L589.7 643.11 L590.2 642.54 L590.7 641.94 L591.2 641.32 L591.7 640.69 L592.2 640.05 L592.7 639.4 L593.2 638.76 L593.7 638.12 L594.2 637.49 L594.7 636.88 L595.2 636.29 L595.7 635.72 L596.2 635.18 L596.7 634.68 L597.2 634.21 L597.7 633.79 L598.2 633.41 L598.7 633.08 L599.2 632.8 L599.7 632.57 L600.2 632.39 L600.7 632.27 L601.2 632.21 L601.7 632.2 L602.2 632.26 L602.7 632.36 L603.2 632.53 L603.7 632.75 L604.2 633.02 L604.7 633.34 L605.2 633.71 L605.7 634.13 L606.2 634.58 L606.7 635.08 L607.2 635.61 L607.7 636.17 L608.2 636.76 L608.7 637.37 L609.2 637.99 L609.7 638.63 L610.2 639.27 L610.7 639.92 L611.2 640.56 L611.7 641.2 L612.2 641.82 L612.7 642.42 L613.2 643 L613.7 643.55 L614.2 644.07 L614.7 644.56 L615.2 645 L615.7 645.41 L616.2 645.76 L616.7 646.07 L617.2 646.32 L617.7 646.53 L618.2 646.67 L618.7 646.77 L619.2 646.8 L619.7 646.78 L620.2 646.7 L620.7 646.56 L621.2 646.37 L621.7 646.12 L622.2 645.83 L622.7 645.48 L623.2 645.09 L623.7 644.65 L624.2 644.17 L624.7 643.66 L625.2 643.11 L625.7 642.54 L626.2 641.94 L626.7 641.32 L627.2 640.69 L627.7 640.05 L628.2 639.4 L628.7 638.76 L629.2 638.12 L629.7 637.49 L630.2 636.88 L630.7 636.29 L631.2 635.72 L631.7 635.18 L632.2 634.68 L632.7 634.21 L633.2 633.79 L633.7 633.41 L634.2 633.08 L634.7 632.8 L635.2 632.57 L635.7 632.39 L636.2 632.27 L636.7 632.21 L637.2 632.2 L637.7 632.26 L638.2 632.36 L638.7 632.53 L639.2 632.75 L639.7 633.02 L640.2 633.34 L640.7 633.71 L641.2 634.13 L641.7 634.58 L642.2 635.08 L642.7 635.61 L643.2 636.17 L643.7 636.76 L644.2 637.37 L644.7 637.99 L645.2 638.63 L645.7 639.27 L646.2 639.92 L646.7 640.56 L647.2 641.2 L647.7 641.82 L648.2 642.42 L648.7 643 L649.2 643.55 L649.7 644.07 L650.2 644.56 L650.7 645 L651.2 645.41 L651.7 645.76 L652.2 646.07 L652.7 646.32 L653.2 646.53 L653.7 646.67 L654.2 646.77 L654.7 646.8 L655.2 646.78 L655.7 646.7 L656.2 646.56 L656.7 646.37 L657.2 646.12 L657.7 645.83 L658.2 645.48 L658.7 645.09 L659.2 644.65 L659.7 644.17 L660.2 643.66 L660.7 643.11 L661.2 642.54 L661.7 641.94 L662.2 641.32 L662.7 640.69 L663.2 640.05 L663.7 639.4 L664.2 638.76 L664.7 638.12 L665.2 637.49 L665.7 636.88 L666.2 636.29 L666.7 635.72 L667.2 635.18 L667.7 634.68 L668.2 634.21 L668.7 633.79 L669.2 633.41 L669.7 633.08 L670.2 632.8 L670.7 632.57 L671.2 632.39 L671.7 632.27 L672.2 632.21 L672.7 632.2 L673.2 632.26 L673.7 632.36 L674.2 632.53 L674.7 632.75 L675.2 633.02 L675.7 633.34 L676.2 633.71 L676.7 634.13 L677.2 634.58 L677.7 635.08 L678.2 635.61 L678.7 636.17 L679.2 636.76 L679.7 637.37 L680.2 637.99 L680.7 638.63 L681.2 639.27 L681.7 639.92 L682.2 640.56 L682.7 641.2 L683.2 641.82 L683.7 642.42 L684.2 643 L684.7 643.55 L685.2 644.07 L685.7 644.56 L686.2 645 L686.7 645.41 L687.2 645.76 L687.7 646.07 L688.2 646.32 L688.7 646.53 L689.2 646.67 L689.7 646.77 L690.2 646.8 L690.7 646.78 L691.2 646.7 L691.7 646.56 L692.2 646.37 L692.7 646.12 L693.2 645.83 L693.7 645.48 L694.2 645.09 L694.7 644.65 L695.2 644.17 L695.7 643.66 L696.2 643.11 L696.7 642.54 L697.2 641.94 L697.7 641.32 L698.2 640.69 L698.7 640.05 L699.2 639.4 L699.7 638.76 L700.2 638.12 L700.7 637.49 L701.2 636.88 L701.7 636.29 L702.2 635.72 L702.7 635.18 L703.2 634.68 L703.7 634.21 L704.2 633.79 L704.7 633.41 L705.2 633.08 L705.7 632.8 L706.2 632.57 L706.7 632.39 L707.2 632.27 L707.7 632.21 L708.2 632.2 L708.7 632.26 L709.2 632.36 L709.7 632.53 L710.2 632.75 L710.7 633.02 L711.2 633.34 L711.7 633.71 L712.2 634.13 L712.7 634.58 L713.2 635.08 L713.7 635.61 L714.2 636.17 L714.7 636.76 L715.2 637.37 L715.7 637.99 L716.2 638.63 L716.7 639.27 L717.2 639.92 L717.7 640.56 L718.2 641.2 L718.7 641.82 L719.2 642.42 L719.7 643 L720.2 643.55 L720.7 644.07 L721.2 644.56 L721.7 645 L722.2 645.41 L722.7 645.76" stroke="#2149a6" stroke-width="3" fill="none"/><path d="M545.7 634.13 L546.2 634.58 L546.7 635.08 L547.2 635.61 L547.7 636.17 L548.2 636.76 L548.7 637.37 L549.2 637.99 L549.7 638.63 L550.2 639.27 L550.7 639.92 L551.2 640.56 L551.7 641.2 L552.2 641.82 L552.7 642.42 L553.2 643 L553.7 643.55 L554.2 644.07 L554.7 644.56 L555.2 645 L555.7 645.41 L556.2 645.76 L556.7 646.07 L557.2 646.32 L557.7 646.53 L558.2 646.67 L558.7 646.77 L559.2 646.8 L559.7 646.78 L560.2 646.7 L560.7 646.56 L561.2 646.37 L561.7 646.12 L562.2 645.83 L562.7 645.48 L563.2 645.09 L563.7 644.65 L564.2 644.17 L564.7 643.66 L565.2 643.11 L565.7 642.54 L566.2 641.94 L566.7 641.32 L567.2 640.69 L567.7 640.05 L568.2 639.4 L568.7 638.76 L569.2 638.12 L569.7 637.49 L570.2 636.88 L570.7 636.29 L571.2 635.72 L571.7 635.18 L572.2 634.68 L572.7 634.21 L573.2 633.79 L573.7 633.41 L574.2 633.08 L574.7 632.8 L575.2 632.57 L575.7 632.39 L576.2 632.27 L576.7 632.21 L577.2 632.2 L577.7 632.26 L578.2 632.36 L578.7 632.53 L579.2 632.75 L579.7 633.02 L580.2 633.34 L580.7 633.71 L581.2 634.13 L581.7 634.58 L582.2 635.08 L582.7 635.61 L583.2 636.17 L583.7 636.76 L584.2 637.37 L584.7 637.99 L585.2 638.63 L585.7 639.27 L586.2 639.92 L586.7 640.56 L587.2 641.2 L587.7 641.82 L588.2 642.42 L588.7 643 L589.2 643.55 L589.7 644.07 L590.2 644.56 L590.7 645 L591.2 645.41 L591.7 645.76 L592.2 646.07 L592.7 646.32 L593.2 646.53 L593.7 646.67 L594.2 646.77 L594.7 646.8 L595.2 646.78 L595.7 646.7 L596.2 646.56 L596.7 646.37 L597.2 646.12 L597.7 645.83 L598.2 645.48 L598.7 645.09 L599.2 644.65 L599.7 644.17 L600.2 643.66 L600.7 643.11 L601.2 642.54 L601.7 641.94 L602.2 641.32 L602.7 640.69 L603.2 640.05 L603.7 639.4 L604.2 638.76 L604.7 638.12 L605.2 637.49 L605.7 636.88 L606.2 636.29 L606.7 635.72 L607.2 635.18 L607.7 634.68 L608.2 634.21 L608.7 633.79 L609.2 633.41 L609.7 633.08 L610.2 632.8 L610.7 632.57 L611.2 632.39 L611.7 632.27 L612.2 632.21 L612.7 632.2 L613.2 632.26 L613.7 632.36 L614.2 632.53 L614.7 632.75 L615.2 633.02 L615.7 633.34 L616.2 633.71 L616.7 634.13 L617.2 634.58 L617.7 635.08 L618.2 635.61 L618.7 636.17 L619.2 636.76 L619.7 637.37 L620.2 637.99 L620.7 638.63 L621.2 639.27 L621.7 639.92 L622.2 640.56 L622.7 641.2 L623.2 641.82 L623.7 642.42 L624.2 643 L624.7 643.55 L625.2 644.07 L625.7 644.56 L626.2 645 L626.7 645.41 L627.2 645.76 L627.7 646.07 L628.2 646.32 L628.7 646.53 L629.2 646.67 L629.7 646.77 L630.2 646.8 L630.7 646.78 L631.2 646.7 L631.7 646.56 L632.2 646.37 L632.7 646.12 L633.2 645.83 L633.7 645.48 L634.2 645.09 L634.7 644.65 L635.2 644.17 L635.7 643.66 L636.2 643.11 L636.7 642.54 L637.2 641.94 L637.7 641.32 L638.2 640.69 L638.7 640.05 L639.2 639.4 L639.7 638.76 L640.2 638.12 L640.7 637.49 L641.2 636.88 L641.7 636.29 L642.2 635.72 L642.7 635.18 L643.2 634.68 L643.7 634.21 L644.2 633.79 L644.7 633.41 L645.2 633.08 L645.7 632.8 L646.2 632.57 L646.7 632.39 L647.2 632.27 L647.7 632.21 L648.2 632.2 L648.7 632.26 L649.2 632.36 L649.7 632.53 L650.2 632.75 L650.7 633.02 L651.2 633.34 L651.7 633.71 L652.2 634.13 L652.7 634.58 L653.2 635.08 L653.7 635.61 L654.2 636.17 L654.7 636.76 L655.2 637.37 L655.7 637.99 L656.2 638.63 L656.7 639.27 L657.2 639.92 L657.7 640.56 L658.2 641.2 L658.7 641.82 L659.2 642.42 L659.7 643 L660.2 643.55 L660.7 644.07 L661.2 644.56 L661.7 645 L662.2 645.41 L662.7 645.76 L663.2 646.07 L663.7 646.32 L664.2 646.53 L664.7 646.67 L665.2 646.77 L665.7 646.8 L666.2 646.78 L666.7 646.7 L667.2 646.56 L667.7 646.37 L668.2 646.12 L668.7 645.83 L669.2 645.48 L669.7 645.09 L670.2 644.65 L670.7 644.17 L671.2 643.66 L671.7 643.11 L672.2 642.54 L672.7 641.94 L673.2 641.32 L673.7 640.69 L674.2 640.05 L674.7 639.4 L675.2 638.76 L675.7 638.12 L676.2 637.49 L676.7 636.88 L677.2 636.29 L677.7 635.72 L678.2 635.18 L678.7 634.68 L679.2 634.21 L679.7 633.79 L680.2 633.41 L680.7 633.08 L681.2 632.8 L681.7 632.57 L682.2 632.39 L682.7 632.27 L683.2 632.21 L683.7 632.2 L684.2 632.26 L684.7 632.36 L685.2 632.53 L685.7 632.75 L686.2 633.02 L686.7 633.34 L687.2 633.71 L687.7 634.13 L688.2 634.58 L688.7 635.08 L689.2 635.61 L689.7 636.17 L690.2 636.76 L690.7 637.37 L691.2 637.99 L691.7 638.63 L692.2 639.27 L692.7 639.92 L693.2 640.56 L693.7 641.2 L694.2 641.82 L694.7 642.42 L695.2 643 L695.7 643.55 L696.2 644.07 L696.7 644.56 L697.2 645 L697.7 645.41 L698.2 645.76 L698.7 646.07 L699.2 646.32 L699.7 646.53 L700.2 646.67 L700.7 646.77 L701.2 646.8 L701.7 646.78 L702.2 646.7 L702.7 646.56 L703.2 646.37 L703.7 646.12 L704.2 645.83 L704.7 645.48 L705.2 645.09 L705.7 644.65 L706.2 644.17 L706.7 643.66 L707.2 643.11 L707.7 642.54 L708.2 641.94 L708.7 641.32 L709.2 640.69 L709.7 640.05 L710.2 639.4 L710.7 638.76 L711.2 638.12 L711.7 637.49 L712.2 636.88 L712.7 636.29 L713.2 635.72 L713.7 635.18 L714.2 634.68 L714.7 634.21 L715.2 633.79 L715.7 633.41 L716.2 633.08 L716.7 632.8 L717.2 632.57 L717.7 632.39 L718.2 632.27 L718.7 632.21 L719.2 632.2 L719.7 632.26 L720.2 632.36 L720.7 632.53 L721.2 632.75 L721.7 633.02 L722.2 633.34 L722.7 633.71" stroke="#0b2583" stroke-width="3" fill="none"/>
<path d="M593 627 L593 613 L668 613" stroke="#222" stroke-width="1.5" fill="none"/>
<path d="M667 608.8 L674.4 613 L667 617.4Z" fill="#222"/>
<text x="606" y="608" font-size="21" font-weight="normal" font-style="italic" fill="#000" textLength="53" lengthAdjust="spacingAndGlyphs">CD36</text>
<text x="592" y="680.5" font-size="23.1" font-weight="bold" font-style="normal" fill="#000" textLength="82.6" lengthAdjust="spacingAndGlyphs">Nucleus</text>
<path d="M741.2 634.35 L863.9 634.35 A7.6 7.6 0 0 0 871.5 626.75 L871.5 435" stroke="#222" stroke-width="3" fill="none"/>
<path d="M866.1 435.9 L871.5 424.8 L876.9 435.9Z" fill="#222"/>
<path d="M833.4 391.4 C845 386, 855 382, 855.3 374.6 M855.6 353 C855 345, 857 336, 862.5 335.6 C868 335, 866 350, 866.2 351 C868 352, 871 340, 871.6 332.9 M871.6 320.2 C873 316, 876 314, 878 313.9 M888 318.4 C889 325, 886 343, 888 343.8 C891 345, 892 330, 895 327 C899 324, 904 328, 905 331 M905 337 L905 353.7 M905.2 374.7 C906 380, 910 385, 916 386 M918 388 C924 390, 930 390, 935.3 390.4" stroke="#b53a55" stroke-width="1.2" fill="none"/>
<rect x="853.3" y="353" width="4.6" height="21" rx="1" fill="#d0506f" stroke="#a8354f" stroke-width="0.6"/>
<rect x="903.5" y="353.8" width="4.6" height="21" rx="1" fill="#d0506f" stroke="#a8354f" stroke-width="0.6"/>
<use href="#chol" transform="translate(869.8 327.9)"/>
<use href="#chol" transform="translate(884.8 312.8)"/>
<use href="#chol" transform="translate(905.1 337.6)"/>
<use href="#chol" transform="translate(916.9 385.4)"/>
<use href="#chol" transform="translate(902.3 211.9)"/>
<use href="#chol" transform="translate(885.1 251.8)"/>
<use href="#chol" transform="translate(944.4 441.6)"/>
<use href="#chol" transform="translate(959.3 495.9)"/>
<use href="#chol" transform="translate(983 494.7)"/>
<use href="#chol" transform="translate(973.9 510.5)"/>
<use href="#chol" transform="translate(991.3 520.4)"/>
<use href="#chol" transform="translate(966.4 530)"/>
<use href="#chol" transform="translate(974.7 543.6)"/>
<path d="M818.4 392 L812.7 392 L821.7 375.4 L830.5 392 L825 392 L825 420.5 L818.4 420.5Z" fill="#d2474a"/>
<text x="852.6" y="408.8" font-size="21.9" font-weight="normal" font-style="normal" fill="#000" textLength="52.2" lengthAdjust="spacingAndGlyphs">CD36</text>
<path d="M954.1 398 C1003.2 438.1, 1049.7 443.4, 1092.5 392.5" stroke="#222" stroke-width="2.5" fill="none"/>
<path d="M1087.5 390.2 L1099.8 384.1 L1096.6 397.3Z" fill="#222"/>
<use href="#glyc" transform="translate(920.2 0)"/>
<use href="#virus" transform="translate(1136.3 286.2) scale(1.06)"/>
<use href="#virus" transform="translate(1081.1 230.4)"/>
<text x="1109.8" y="241.6" font-size="23" font-weight="normal" font-style="normal" fill="#000" textLength="111.8" lengthAdjust="spacingAndGlyphs">IAV Binding</text>
<path d="M1230.7 219.1 L1224.2 219.1 L1233.6 201.7 L1242.3 219.1 L1236.2 219.1 L1236.2 247.8 L1230.7 247.8Z" fill="#d2474a"/>
<use href="#virus" transform="translate(1180 413.7)"/>
<path d="M1018.3 509.2 L1011.2 509.2 L1022 488.5 L1032.8 509.2 L1025.7 509.2 L1025.7 550.7 L1018.3 550.7Z" fill="url(#fadeR)"/>
<text x="920.4" y="587.6" font-size="22.8" font-weight="normal" font-style="normal" fill="#000" textLength="110.2" lengthAdjust="spacingAndGlyphs">Cholesterol</text>
<use href="#virus" transform="translate(1131.5 534.1)"/>
<use href="#virus" transform="translate(1171.8 507.1)"/>
<path d="M1203.7 509.2 L1196.7 509.2 L1207 488.5 L1218.3 509.2 L1210.4 509.2 L1210.4 550.7 L1203.7 550.7Z" fill="url(#fadeR)"/>
<text x="1095.4" y="587.6" font-size="22.8" font-weight="normal" font-style="normal" fill="#000" textLength="125.6" lengthAdjust="spacingAndGlyphs">IAV Infection</text>
</svg></body></html>
